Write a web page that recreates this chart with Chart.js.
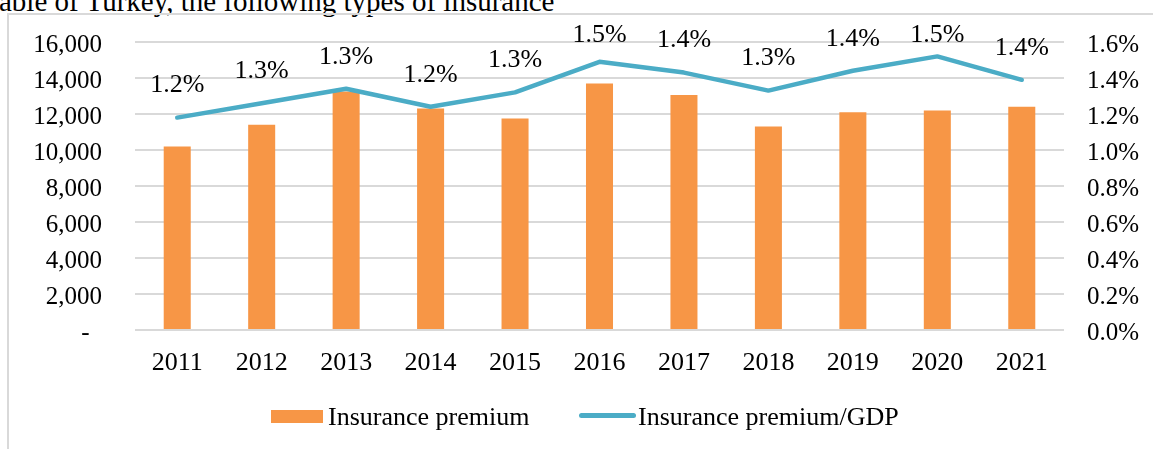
<!DOCTYPE html>
<html>
<head>
<meta charset="utf-8">
<script src="https://cdn.jsdelivr.net/npm/chart.js@4/dist/chart.umd.min.js"></script>
<style>
  html, body { margin: 0; padding: 0; background: #fff; }
  #wrap { position: relative; width: 1153px; height: 449px; overflow: hidden; background: #fff; font-family: "Liberation Serif", "Times New Roman", serif; }
  #title { position: absolute; left: -1px; top: -13px; font-size: 29px; line-height: 29px; color: #000; white-space: nowrap; }
  #frame { position: absolute; left: 7px; top: 13px; width: 1200px; height: 500px; border-left: 2px solid #d9d9d9; border-top: 2px solid #d9d9d9; }
  canvas { position: absolute; left: 0; top: 0; }
  .lg { position: absolute; font-size: 26px; line-height: 26px; color: #000; white-space: nowrap; }
  #sw1 { position: absolute; left: 271px; top: 410px; width: 52px; height: 13px; background: #f79646; }
  #sw2 { position: absolute; left: 579px; top: 413px; width: 57px; height: 5px; background: #4bacc6; border-radius: 3px; }
</style>
</head>
<body>
<div id="wrap">
  <div id="title">able of Turkey, the following types of insurance</div>
  <div id="frame"></div>
  <canvas id="c" width="1153" height="449"></canvas>
  <div id="sw1"></div>
  <div class="lg" id="t1" style="left:328px; top:404px;">Insurance premium</div>
  <div id="sw2"></div>
  <div class="lg" id="t2" style="left:638px; top:404px;">Insurance premium/GDP</div>
</div>
<script>
const years = ['2011','2012','2013','2014','2015','2016','2017','2018','2019','2020','2021'];
const premium = [10200, 11400, 13250, 12300, 11750, 13700, 13050, 11300, 12100, 12200, 12400];
const premiumGdp = [1.18, 1.26, 1.34, 1.24, 1.32, 1.49, 1.43, 1.33, 1.44, 1.52, 1.39];
const seriesNames = ['Insurance premium', 'Insurance premium/GDP'];

const FONT = '"Liberation Serif", "Times New Roman", serif';

const labelPlugin = {
  id: 'lineLabels',
  afterDatasetsDraw(chart) {
    const meta = chart.getDatasetMeta(1);
    const ctx = chart.ctx;
    ctx.save();
    ctx.font = '26px ' + FONT;
    ctx.fillStyle = '#000';
    ctx.textAlign = 'center';
    ctx.textBaseline = 'middle';
    meta.data.forEach((pt, i) => {
      const y = Math.max(pt.y - 32, 35);
      ctx.fillText(premiumGdp[i].toFixed(1) + '%', pt.x, y);
    });
    ctx.restore();
  }
};

function noPad(s) {
  s.paddingTop = 0; s.paddingBottom = 0;
}

new Chart(document.getElementById('c'), {
  data: {
    labels: years,
    datasets: [
      {
        type: 'bar',
        label: seriesNames[0],
        data: premium,
        backgroundColor: '#f79646',
        borderWidth: 0,
        categoryPercentage: 1,
        barPercentage: 0.32,
        yAxisID: 'y',
        order: 2
      },
      {
        type: 'line',
        label: seriesNames[1],
        data: premiumGdp,
        borderColor: '#4bacc6',
        borderWidth: 4.5,
        borderCapStyle: 'round',
        borderJoinStyle: 'round',
        pointRadius: 0,
        tension: 0,
        fill: false,
        yAxisID: 'y1',
        order: 1
      }
    ]
  },
  options: {
    responsive: false,
    animation: false,
    devicePixelRatio: 1,
    layout: { padding: { top: 42, bottom: 79, left: 0, right: 0 } },
    plugins: { legend: { display: false }, tooltip: { enabled: false } },
    scales: {
      x: {
        grid: { display: false, drawTicks: false },
        border: { display: false },
        ticks: { color: '#000', font: { family: FONT, size: 26 }, padding: 18, maxRotation: 0 },
        afterFit(s) { s.height = 40; s.paddingLeft = 0; s.paddingRight = 0; }
      },
      y: {
        position: 'left',
        min: 0, max: 16000,
        ticks: {
          stepSize: 2000,
          color: '#000',
          font: { family: FONT, size: 25 },
          padding: 33,
          labelOffset: 3,
          callback: v => v === 0 ? '-  ' : v.toLocaleString('en-US')
        },
        grid: { color: '#d9d9d9', lineWidth: 2, drawTicks: false },
        border: { display: false },
        afterFit(s) { s.width = 135; noPad(s); }
      },
      y1: {
        position: 'right',
        min: 0, max: 1.6,
        ticks: {
          stepSize: 0.2,
          color: '#000',
          font: { family: FONT, size: 25 },
          padding: 23,
          labelOffset: 3,
          callback: v => v.toFixed(1) + '%'
        },
        grid: { display: false, drawTicks: false },
        border: { display: false },
        afterFit(s) { s.width = 89; noPad(s); }
      }
    }
  },
  plugins: [labelPlugin]
});
</script>
</body>
</html>
